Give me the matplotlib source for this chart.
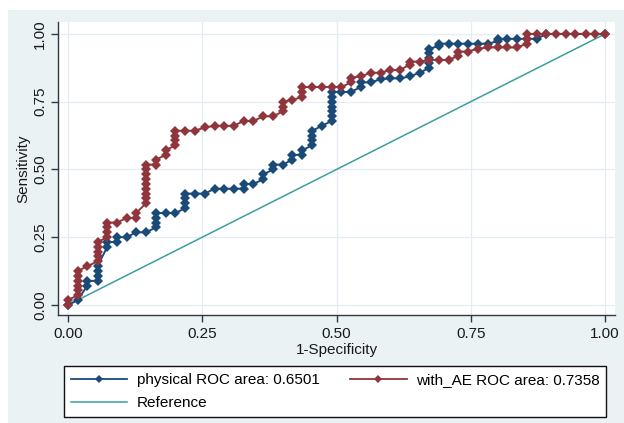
import matplotlib.pyplot as plt
from matplotlib.lines import Line2D
from matplotlib.patches import Rectangle

# physical model ROC points (1-specificity, sensitivity)
phys_fpr = [0.000, 0.018, 0.036, 0.036, 0.055, 0.055, 0.055, 0.055,
            0.073, 0.073, 0.091, 0.091, 0.109, 0.127, 0.145,
            0.164, 0.164, 0.164, 0.164, 0.182, 0.200,
            0.218, 0.218, 0.218, 0.218, 0.236, 0.255,
            0.273, 0.291, 0.309, 0.327, 0.327, 0.345,
            0.364, 0.364, 0.382, 0.382, 0.400, 0.418, 0.418, 0.436, 0.436,
            0.455, 0.455, 0.455, 0.455, 0.473,
            0.491, 0.491, 0.491, 0.491, 0.491, 0.491, 0.491,
            0.509, 0.527, 0.545, 0.545, 0.564, 0.582, 0.600, 0.618, 0.636, 0.655,
            0.673, 0.673, 0.673, 0.673, 0.673, 0.691, 0.691,
            0.709, 0.727, 0.745, 0.764, 0.782, 0.800, 0.800,
            0.818, 0.836, 0.855, 0.873, 0.891, 1.000]
phys_tpr = [0.000, 0.018, 0.071, 0.089, 0.089, 0.107, 0.125, 0.143,
            0.214, 0.232, 0.232, 0.250, 0.250, 0.268, 0.268,
            0.286, 0.304, 0.321, 0.339, 0.339, 0.339,
            0.357, 0.375, 0.393, 0.411, 0.411, 0.411,
            0.429, 0.429, 0.429, 0.429, 0.446, 0.446,
            0.464, 0.482, 0.500, 0.518, 0.518, 0.536, 0.554, 0.554, 0.571,
            0.589, 0.607, 0.625, 0.643, 0.661,
            0.679, 0.696, 0.714, 0.732, 0.750, 0.768, 0.786,
            0.786, 0.786, 0.804, 0.821, 0.821, 0.833, 0.836, 0.836, 0.843, 0.857,
            0.875, 0.893, 0.911, 0.929, 0.946, 0.955, 0.964,
            0.964, 0.964, 0.964, 0.964, 0.964, 0.973, 0.982,
            0.982, 0.982, 0.982, 0.982, 1.000, 1.000]

# with_AE model ROC points
ae_fpr = [0.000, 0.000, 0.018, 0.018, 0.018, 0.018, 0.018, 0.018, 0.036,
          0.055, 0.055, 0.055, 0.055, 0.055,
          0.073, 0.073, 0.073, 0.073, 0.091, 0.109, 0.127, 0.127,
          0.145, 0.145, 0.145, 0.145, 0.145, 0.145, 0.145, 0.145, 0.145,
          0.164, 0.164, 0.182, 0.182, 0.200, 0.200, 0.200, 0.200,
          0.218, 0.236, 0.255, 0.273, 0.291, 0.309, 0.327, 0.345, 0.364, 0.382,
          0.400, 0.400, 0.400, 0.418, 0.436, 0.436, 0.436,
          0.455, 0.473, 0.491, 0.509, 0.527, 0.527, 0.545, 0.564, 0.582,
          0.600, 0.618, 0.636, 0.636, 0.655, 0.673, 0.691, 0.709,
          0.727, 0.727, 0.745, 0.764, 0.782, 0.800, 0.818, 0.836,
          0.855, 0.855, 0.855, 0.873, 0.891, 0.909, 0.927, 0.945, 0.964, 0.982, 1.000]
ae_tpr = [0.000, 0.018, 0.036, 0.054, 0.071, 0.089, 0.107, 0.125, 0.143,
          0.161, 0.179, 0.196, 0.214, 0.232,
          0.250, 0.268, 0.286, 0.304, 0.304, 0.321, 0.321, 0.339,
          0.375, 0.393, 0.411, 0.429, 0.446, 0.464, 0.482, 0.500, 0.518,
          0.518, 0.536, 0.554, 0.571, 0.589, 0.607, 0.625, 0.643,
          0.643, 0.643, 0.655, 0.661, 0.661, 0.661, 0.679, 0.679, 0.696, 0.696,
          0.714, 0.732, 0.750, 0.756, 0.768, 0.786, 0.804,
          0.804, 0.804, 0.804, 0.804, 0.821, 0.839, 0.843, 0.857, 0.857,
          0.867, 0.867, 0.886, 0.898, 0.898, 0.904, 0.904, 0.904,
          0.920, 0.935, 0.935, 0.946, 0.950, 0.950, 0.950, 0.950,
          0.964, 0.982, 1.000, 1.000, 1.000, 1.000, 1.000, 1.000, 1.000, 1.000, 1.000]

ref_x = [0.0, 1.0]
ref_y = [0.0, 1.0]

ticks = [0.00, 0.25, 0.50, 0.75, 1.00]
tick_labels = ["0.00", "0.25", "0.50", "0.75", "1.00"]

labels = ["physical ROC area: 0.6501", "with_AE ROC area: 0.7358", "Reference"]

BLUE = "#1a4a78"
RED = "#90353b"
TEAL = "#3c9ea0"
BG = "#eaf2f3"
AXC = "#2e3a44"
FS = 11
MS = 4.6


def main():
    plt.rcParams["font.family"] = ["Liberation Sans", "DejaVu Sans"]
    fig = plt.figure(figsize=(6.24, 4.23), dpi=100)
    fig.patch.set_facecolor("white")
    fig.patches.append(Rectangle((8 / 624, 0), 1, 1 - 10 / 423, transform=fig.transFigure,
                                 facecolor=BG, edgecolor="none", zorder=-5))

    ax = fig.add_axes([58 / 624, 1 - 315 / 423, 557 / 624, 293 / 423])
    ax.set_zorder(2)
    ax.set_facecolor("white")
    ax.set_xlim(-0.0186, 1.0186)
    ax.set_ylim(-0.037, 1.044)

    for t in ticks:
        ax.axhline(t, color="#e4eef2", lw=0.9, zorder=0)
        ax.axvline(t, color="#e4eef2", lw=0.9, zorder=0)

    ax.plot(ref_x, ref_y, color=TEAL, lw=1.1, zorder=2)
    ax.plot(phys_fpr, phys_tpr, color=BLUE, lw=1.4, marker="D", ms=MS, mew=0, zorder=3)
    ax.plot(ae_fpr, ae_tpr, color=RED, lw=1.4, marker="D", ms=MS, mew=0, zorder=4)

    for s in ["top", "right"]:
        ax.spines[s].set_visible(False)
    for s in ["left", "bottom"]:
        ax.spines[s].set_color(AXC)
        ax.spines[s].set_linewidth(1.0)

    ax.set_xticks(ticks)
    ax.set_xticklabels(tick_labels)
    ax.set_yticks(ticks)
    ax.set_yticklabels(tick_labels, rotation=90, va="center")
    ax.tick_params(axis="both", direction="out", length=5, width=1.0, color=AXC,
                   labelsize=FS, labelcolor="#1a1a1a")
    ax.tick_params(axis="x", pad=4)
    ax.tick_params(axis="y", pad=3)

    ax.set_xlabel("1-Specificity", fontsize=FS, color="#1a1a1a", labelpad=1)
    ax.set_ylabel("Sensitivity", fontsize=FS, color="#1a1a1a", labelpad=2)

    h_phys = Line2D([], [], color=BLUE, lw=1.3, marker="D", ms=3.6, mew=0)
    h_ae = Line2D([], [], color=RED, lw=1.3, marker="D", ms=3.6, mew=0)
    h_ref = Line2D([], [], color=TEAL, lw=1.1)
    leg = fig.legend([h_phys, h_ref, h_ae], [labels[0], labels[2], labels[1]],
                     ncol=2, loc="upper left",
                     bbox_to_anchor=(64 / 624, 1 - 366 / 423),
                     borderaxespad=0, fontsize=FS, numpoints=1,
                     handlelength=3.7, handletextpad=0.6, labelspacing=0.62,
                     columnspacing=2.0, fancybox=False, framealpha=1,
                     edgecolor="#111111", facecolor="white", borderpad=0.45)
    leg.get_frame().set_linewidth(1.0)

    fig.savefig("out.png", dpi=100, facecolor="white")
    plt.close(fig)


if __name__ == "__main__":
    main()
